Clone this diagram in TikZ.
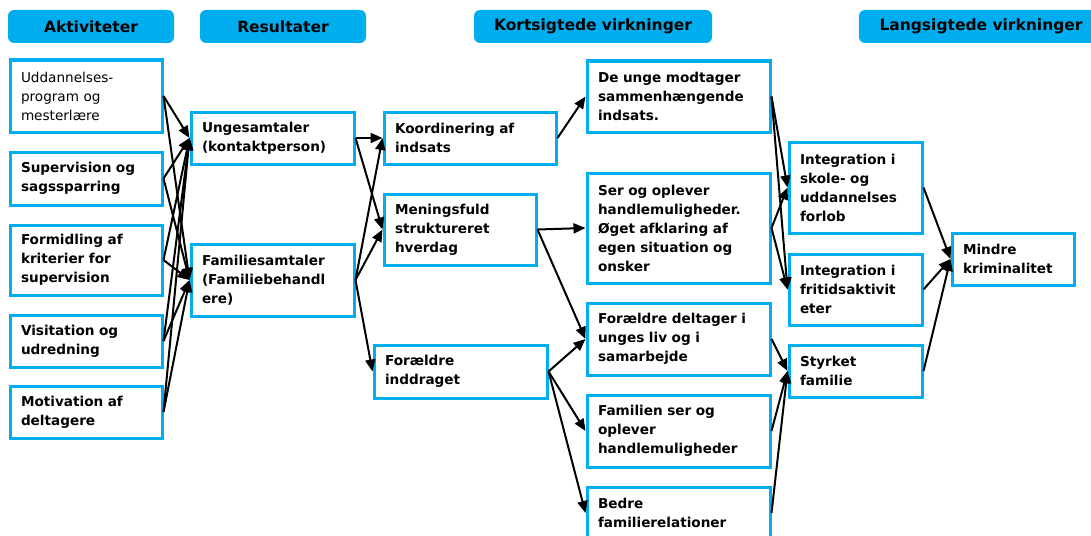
\documentclass[tikz,border=0pt]{standalone}
\usepackage{fontspec}
\setmainfont{DejaVu Sans}
\usetikzlibrary{arrows.meta}
\definecolor{cy}{HTML}{00AEEF}
\newcommand\bx[7][]{%
  \pgfmathsetlengthmacro\bxtw{(#5-#3-22)*1pt}%
  \pgfmathsetlengthmacro\bxw{(#5-#3)*1pt}%
  \pgfmathsetlengthmacro\bxh{(#6-#4)*1pt}%
  \node[box,#1,minimum width=\bxw,minimum height=\bxh,text width=\bxtw] (#2) at ({(#3+#5)/2},{(#4+#6)/2}) {#7};}
\begin{document}
\begin{tikzpicture}[x=1pt,y=-1pt,
  box/.style={draw=cy, line width=3pt, fill=white, inner xsep=11pt, inner ysep=0pt,
    align=left, font=\fontsize{13.6}{19}\selectfont\bfseries},
  hdr/.style={fill=cy, rounded corners=6pt, inner sep=0pt, minimum height=33pt,
    font=\fontsize{15.5}{19}\selectfont\bfseries},
  arr/.style={-{Triangle[length=12pt,width=10pt]}, line width=2pt, black}]
\useasboundingbox (0,0) rectangle (1091,535);
% headers
\node[hdr, minimum width=166pt] (h1) at (91,26.5) {Aktiviteter};
\node[hdr, minimum width=166pt] (h2) at (283,26.5) {Resultater};
\node[hdr, minimum width=238pt] (h3) at (593,26.5) {Kortsigtede virkninger};
\node[hdr, minimum width=244pt] (h4) at (981,26.5) {Langsigtede virkninger};
% activities
\bx{udd}{10}{60}{162}{132}{\mdseries Uddannelses-\\program og\\mesterlære}
\bx{sup}{10}{152}{162}{205}{Supervision og\\sagssparring}
\bx{form}{10}{225}{162}{295}{Formidling af\\kriterier for\\supervision}
\bx{vis}{10}{315}{162}{367}{Visitation og\\udredning}
\bx{mot}{10}{386}{162}{438}{Motivation af\\deltagere}
% results
\bx{ung}{191}{112}{354}{164}{Ungesamtaler\\(kontaktperson)}
\bx{fam}{191}{244}{354}{316}{Familiesamtaler\\(Familiebehandl\\ere)}
% short term 1
\bx{koord}{384}{112}{556}{164}{Koordinering af\\indsats}
\bx{men}{384}{194}{536}{265}{Meningsfuld\\struktureret\\hverdag}
\bx{fori}{374}{345}{547}{398}{Forældre\\inddraget}
% short term 2
\bx{deu}{587}{61}{770}{132}{De unge modtager\\sammenhængende\\indsats.}
\bx{ser}{587}{173}{770}{283}{Ser og oplever\\handlemuligheder.\\Øget afklaring af\\egen situation og\\onsker}
\bx{ford}{587}{303}{770}{375}{Forældre deltager i\\unges liv og i\\samarbejde}
\bx{famse}{587}{395}{770}{467}{Familien ser og\\oplever\\handlemuligheder}
\bx{bedre}{587}{487}{770}{539}{Bedre\\familierelationer}
% long term
\bx{intsk}{789}{142}{922}{233}{Integration i\\skole- og\\uddannelses\\forlob}
\bx{intfr}{789}{254}{922}{325}{Integration i\\fritidsaktivit\\eter}
\bx{styr}{789}{345}{922}{397}{Styrket\\familie}
\bx{mindre}{952}{233}{1074}{285}{Mindre\\kriminalitet}
% connectors
\foreach \s in {udd,sup,form,vis,mot}{
  \draw[arr] (\s.east) -- (ung.west);
  \draw[arr] (\s.east) -- (fam.west);
}
\draw[arr] (ung.east) -- (koord.west);
\draw[arr] (ung.east) -- (men.west);
\draw[arr] (fam.east) -- (koord.west);
\draw[arr] (fam.east) -- (men.west);
\draw[arr] (fam.east) -- (fori.west);
\draw[arr] (koord.east) -- (deu.west);
\draw[arr] (men.east) -- (ser.west);
\draw[arr] (men.east) -- (ford.west);
\draw[arr] (fori.east) -- (ford.west);
\draw[arr] (fori.east) -- (famse.west);
\draw[arr] (fori.east) -- (bedre.west);
\draw[arr] (deu.east) -- (intsk.west);
\draw[arr] (deu.east) -- (intfr.west);
\draw[arr] (ser.east) -- (intsk.west);
\draw[arr] (ser.east) -- (intfr.west);
\draw[arr] (ford.east) -- (styr.west);
\draw[arr] (famse.east) -- (styr.west);
\draw[arr] (bedre.east) -- (styr.west);
\draw[arr] (intsk.east) -- (mindre.west);
\draw[arr] (intfr.east) -- (mindre.west);
\draw[arr] (styr.east) -- (mindre.west);
\end{tikzpicture}
\end{document}
